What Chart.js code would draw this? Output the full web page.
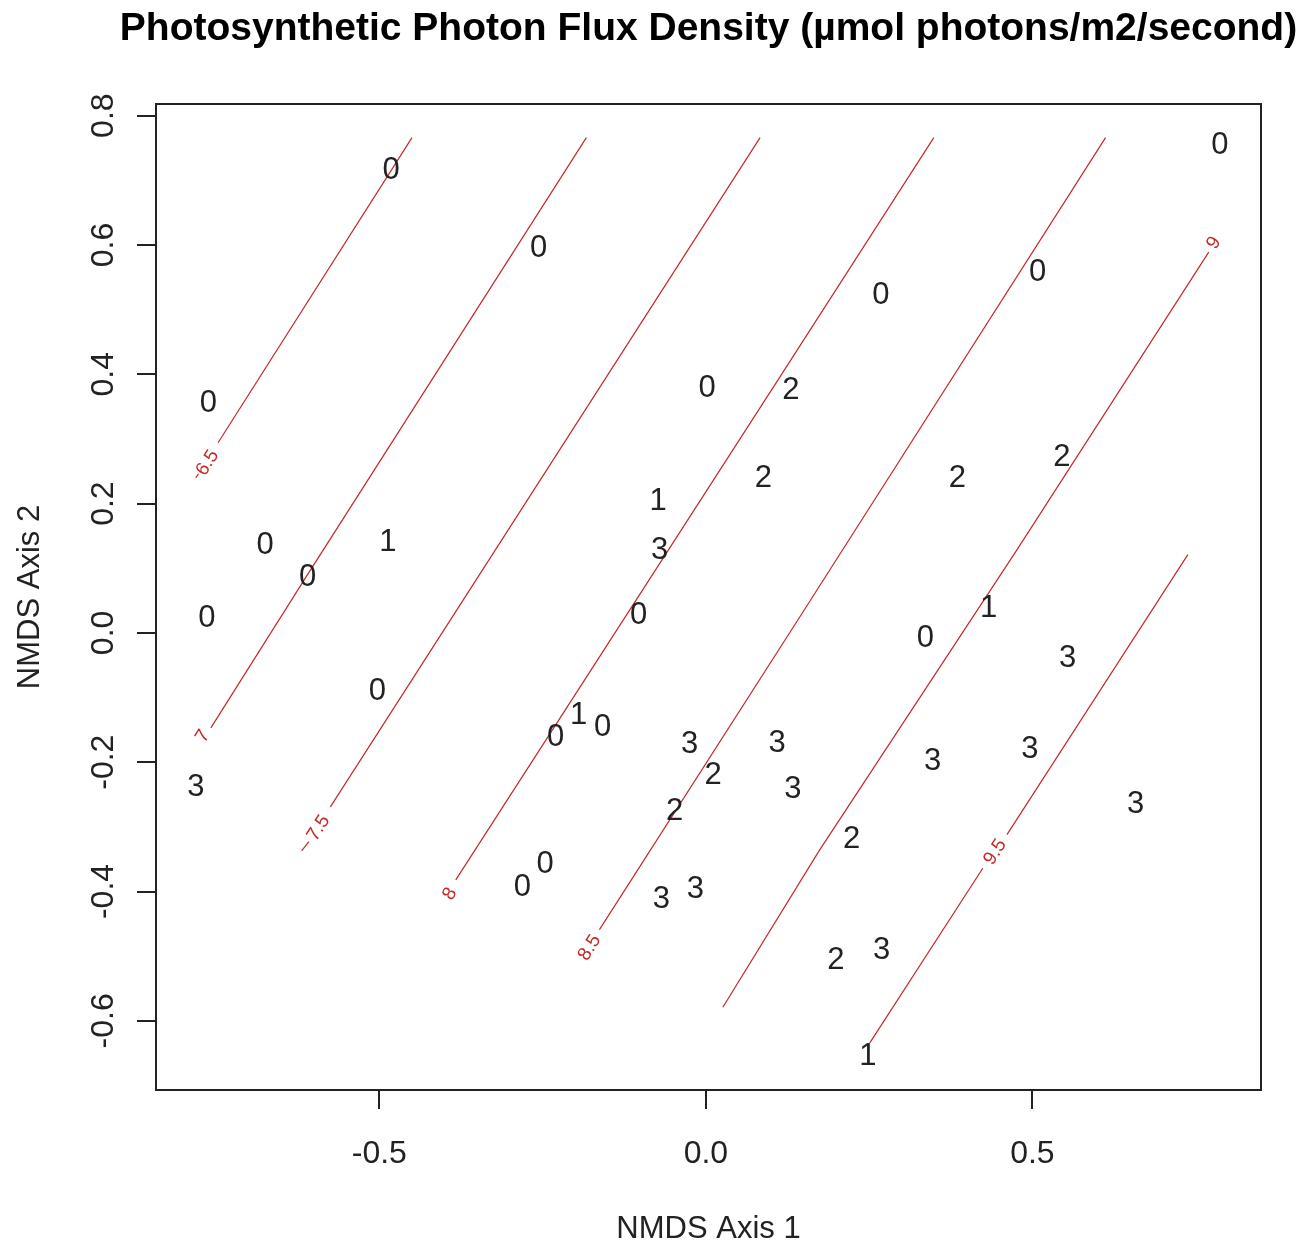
<!DOCTYPE html>
<html>
<head>
<meta charset="utf-8">
<script src="https://cdn.jsdelivr.net/npm/chart.js@4/dist/chart.umd.min.js"></script>
<style>
  html, body { margin: 0; padding: 0; background: #fff; }
  #wrap { width: 1311px; height: 1245px; }
</style>
</head>
<body>
<div id="wrap"><canvas id="nmds" width="1311" height="1245"></canvas></div>
<script>
// site scores (NMDS axis 1 / axis 2) and the group digit printed at each site
const siteX = [-0.482, -0.256, -0.762, -0.675, -0.487, -0.610, -0.764, -0.503, -0.781,
  0.787, 0.508, 0.268, 0.002, 0.130, 0.545, 0.088, 0.385, -0.073, -0.071, -0.103,
  0.433, 0.336, 0.554, -0.195, -0.230, -0.158, -0.025, 0.109, 0.011, 0.347,
  0.496, 0.133, -0.048, 0.658, 0.223, -0.246, -0.281, -0.068, -0.016, 0.199,
  0.269, 0.248]
const siteY = [0.719, 0.599, 0.358, 0.139, 0.144, 0.090, 0.026, -0.087, -0.235,
  0.758, 0.561, 0.526, 0.382, 0.379, 0.275, 0.243, 0.243, 0.207, 0.131, 0.031,
  0.041, -0.005, -0.036, -0.124, -0.158, -0.142, -0.168, -0.167, -0.217, -0.195,
  -0.176, -0.238, -0.272, -0.261, -0.316, -0.355, -0.390, -0.408, -0.393, -0.503,
  -0.487, -0.651]
const siteGroup = ["0", "0", "0", "0", "1", "0", "0", "0", "3",
  "0", "0", "0", "0", "2", "2", "2", "2", "1", "3", "0",
  "1", "0", "3", "1", "0", "0", "3", "3", "2", "3",
  "3", "3", "2", "3", "2", "0", "0", "3", "3", "2",
  "3", "1"]

// fitted PPFD surface contours (null = break in the line)
const contourLevels = ["6.5", "7", "7.5", "8", "8.5", "9", "9.5"]
const contourX = [
  [-0.781, -0.777, null, -0.747, -0.450],
  [-0.758, -0.610, -0.183],
  [-0.619, -0.608, null, -0.575, 0.083],
  [-0.383, 0.107, 0.349],
  [-0.163, 0.144, 0.612],
  [0.026, 0.174, 0.476, 0.770],
  [0.251, 0.424, null, 0.461, 0.738]
]
const contourY = [
  [0.240, 0.246, null, 0.294, 0.766],
  [-0.147, 0.090, 0.766],
  [-0.337, -0.323, null, -0.269, 0.766],
  [-0.382, 0.386, 0.766],
  [-0.459, 0.025, 0.766],
  [-0.579, -0.336, 0.128, 0.589],
  [-0.634, -0.364, null, -0.312, 0.121]
]
const contourLabelX = [-0.763, -0.770, -0.593, -0.392, -0.178, 0.778, 0.443]
const contourLabelY = [0.263, -0.160, -0.302, -0.404, -0.487, 0.603, -0.339]

const xTicks = [-0.5, 0.0, 0.5]
const yTicks = [-0.6, -0.4, -0.2, 0.0, 0.2, 0.4, 0.6, 0.8]

const mainTitle = 'Photosynthetic Photon Flux Density (µmol photons/m2/second)'

const FONT = '"Liberation Sans", Arial, Helvetica, sans-serif'
const INK = '#222'
const contourColor = '#c62828'

// title centred over the plot region (R's main=), allowed wider than the plot
const plotTitle = {
  id: 'plotTitle',
  afterDraw(chart) {
    const { ctx, chartArea: a } = chart
    ctx.save()
    ctx.font = 'bold 39px ' + FONT
    ctx.fillStyle = '#000'
    ctx.textAlign = 'center'
    ctx.textBaseline = 'alphabetic'
    ctx.fillText(mainTitle, (a.left + a.right) / 2, 40)
    ctx.restore()
  }
}

// digits at the site positions
const siteText = {
  id: 'siteText',
  afterDatasetsDraw(chart) {
    const ctx = chart.ctx
    const meta = chart.getDatasetMeta(0)
    ctx.save()
    ctx.font = '31px ' + FONT
    ctx.fillStyle = INK
    ctx.textAlign = 'center'
    ctx.textBaseline = 'alphabetic'
    meta.data.forEach((pt, i) => {
      ctx.fillText(siteGroup[i], pt.x, pt.y + 11)
    })
    ctx.restore()
  }
}

// level labels written along each contour
const contourText = {
  id: 'contourText',
  afterDatasetsDraw(chart) {
    const { ctx, scales } = chart
    ctx.save()
    ctx.font = '19px ' + FONT
    ctx.fillStyle = contourColor
    ctx.textAlign = 'center'
    ctx.textBaseline = 'middle'
    contourLevels.forEach((lev, i) => {
      const xs = contourX[i]
      const ys = contourY[i]
      const n = xs.length - 1
      const ax = scales.x.getPixelForValue(xs[0])
      const ay = scales.y.getPixelForValue(ys[0])
      const bx = scales.x.getPixelForValue(xs[n])
      const by = scales.y.getPixelForValue(ys[n])
      const ang = Math.atan2(by - ay, bx - ax)
      ctx.save()
      ctx.translate(scales.x.getPixelForValue(contourLabelX[i]), scales.y.getPixelForValue(contourLabelY[i]))
      ctx.rotate(ang)
      ctx.fillText(lev, 0, 0)
      ctx.restore()
    })
    ctx.restore()
  }
}

// box round the plot region, like R's box()
const plotBox = {
  id: 'plotBox',
  afterDraw(chart) {
    const { ctx, chartArea: a } = chart
    ctx.save()
    ctx.strokeStyle = INK
    ctx.lineWidth = 2
    ctx.strokeRect(a.left, a.top, a.right - a.left, a.bottom - a.top)
    ctx.restore()
  }
}

const datasets = [{
  label: 'sites',
  data: siteX.map((x, i) => ({ x: x, y: siteY[i] })),
  pointRadius: 0,
  pointHoverRadius: 0
}]
contourLevels.forEach((lev, i) => {
  datasets.push({
    label: lev,
    data: contourX[i].map((x, j) => ({ x: x, y: contourY[i][j] })),
    showLine: true,
    spanGaps: false,
    borderColor: contourColor,
    borderWidth: 1.2,
    pointRadius: 0,
    pointHoverRadius: 0,
    fill: false
  })
})

new Chart(document.getElementById('nmds'), {
  type: 'scatter',
  data: { datasets: datasets },
  options: {
    responsive: false,
    devicePixelRatio: 1,
    animation: false,
    layout: { padding: { left: 0, right: 50, top: 104, bottom: 0 } },
    plugins: {
      legend: { display: false },
      tooltip: { enabled: false },
      title: { display: false }
    },
    scales: {
      x: {
        type: 'linear',
        position: 'bottom',
        min: -0.842,
        max: 0.850,
        afterBuildTicks: (scale) => { scale.ticks = xTicks.map(v => ({ value: v })) },
        afterFit: (scale) => { scale.height = 155 },
        border: { display: false },
        grid: { drawOnChartArea: false, color: INK, lineWidth: 2, tickLength: 19 },
        ticks: {
          color: INK,
          font: { family: FONT, size: 32 },
          padding: 26,
          maxRotation: 0,
          autoSkip: false,
          callback: (v) => Number(v).toFixed(1)
        },
        title: {
          display: true,
          text: 'NMDS Axis 1',
          color: INK,
          font: { family: FONT, size: 31, lineHeight: 1 },
          padding: { top: 0, bottom: 0 }
        }
      },
      y: {
        type: 'linear',
        position: 'left',
        min: -0.707,
        max: 0.818,
        afterBuildTicks: (scale) => { scale.ticks = yTicks.map(v => ({ value: v })) },
        afterFit: (scale) => { scale.width = 156 },
        border: { display: false },
        grid: { drawOnChartArea: false, color: INK, lineWidth: 2, tickLength: 19 },
        ticks: {
          color: INK,
          font: { family: FONT, size: 32 },
          padding: 5,
          minRotation: 90,
          maxRotation: 90,
          crossAlign: 'center',
          autoSkip: false,
          callback: (v) => Number(v).toFixed(1)
        },
        title: {
          display: true,
          text: 'NMDS Axis 2',
          color: INK,
          font: { family: FONT, size: 31, lineHeight: 1 },
          padding: { top: 14.5, bottom: 0 }
        }
      }
    }
  },
  plugins: [siteText, contourText, plotBox, plotTitle]
})
</script>
</body>
</html>
